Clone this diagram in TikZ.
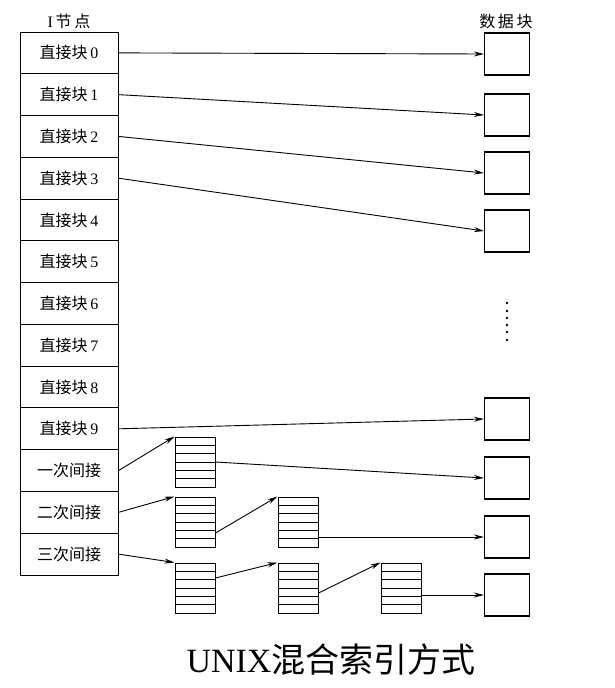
\documentclass[tikz,border=0pt]{standalone}
\usepackage{fontspec}
\setmainfont{Liberation Serif}
\newfontfamily\cjk{Noto Sans CJK SC}
\usetikzlibrary{arrows.meta,calc}
\newcommand{\zh}[1]{{\cjk #1}}
\begin{document}
\begin{tikzpicture}[x=1pt,y=-1pt,
  cell/.style={draw,line width=1pt,minimum width=98pt,minimum height=41.77pt,inner sep=0pt,font=\fontsize{16}{18}\selectfont},
  datab/.style={draw,line width=1.1pt,minimum width=45pt,minimum height=42pt,inner sep=0pt},
  idx/.style={draw,line width=1pt,minimum width=40pt,minimum height=50pt,inner sep=0pt,
    path picture={\foreach \k in {1,...,5}{\draw[line width=0.8pt] ($(path picture bounding box.north west)!\k/6!(path picture bounding box.south west)$) -- ($(path picture bounding box.north east)!\k/6!(path picture bounding box.south east)$);}}},
  arr/.style={line width=0.9pt,-{Stealth[length=10pt,width=5pt]}},
  lbl/.style={inner sep=0pt,font=\fontsize{16}{18}\selectfont}
]
\useasboundingbox (0,0) rectangle (614,688);
% inode column
\foreach \i in {0,...,9}{
  \node[cell] (c\i) at (69,{32+41.77*(\i+0.5)}) {\zh{直接块}\,\i};
}
\node[cell] (c10) at (69,{32+41.77*10.5}) {\zh{一次间接}};
\node[cell] (c11) at (69,{32+41.77*11.5}) {\zh{二次间接}};
\node[cell] (c12) at (69,{32+41.77*12.5}) {\zh{三次间接}};
\node[lbl] (hdr1) at (69,21) {I\,\zh{节\,点}};
\node[lbl] (hdr2) at (506,21) {\zh{数\,据\,块}};
% data blocks
\node[datab] (d0) at (507,54) {};
\node[datab] (d1) at (507,115) {};
\node[datab] (d2) at (507,173) {};
\node[datab] (d3) at (507,231) {};
\node[datab] (d4) at (507,419) {};
\node[datab] (d5) at (507,478) {};
\node[datab] (d6) at (507,537) {};
\node[datab] (d7) at (507,595) {};
% index blocks
\node[idx] (i1) at (195,462) {};
\node[idx] (i2) at (195,522) {};
\node[idx] (i3) at (298,522) {};
\node[idx] (t1) at (195,588) {};
\node[idx] (t2) at (298,588) {};
\node[idx] (t3) at (401,588) {};
% dots
\foreach \yy [count=\n] in {303,311,318,325,332,340}{
  \fill (507,\yy) circle (1.3pt);
}
% direct arrows
\draw[arr] (c0.east) -- (d0.west);
\draw[arr] (c1.east) -- (d1.west);
\draw[arr] (c2.east) -- (d2.west);
\draw[arr] (c3.east) -- (d3.west);
\draw[arr] (c9.east) -- (d4.west);
% single indirect
\draw[arr] (c10.east) -- (i1.north west);
\draw[arr] (i1.east) -- (d5.west);
% double indirect
\draw[arr] (c11.east) -- (i2.north west);
\draw[arr] ([yshift=-11pt]i2.east) -- (i3.north west);
\draw[arr] (d6.west -| i3.east) -- (d6.west);
% triple indirect
\draw[arr] (c12.east) -- (t1.north west);
\draw[arr] ([yshift=10pt]t1.east) -- (t2.north west);
\draw[arr] ([yshift=-5pt]t2.east) -- (t3.north west);
\draw[arr] (d7.west -| t3.east) -- (d7.west);
% caption
\node[inner sep=0pt,font=\fontsize{34}{38}\selectfont] (cap) at (331,660) {UNIX\zh{混合索引方式}};
\end{tikzpicture}
\end{document}
